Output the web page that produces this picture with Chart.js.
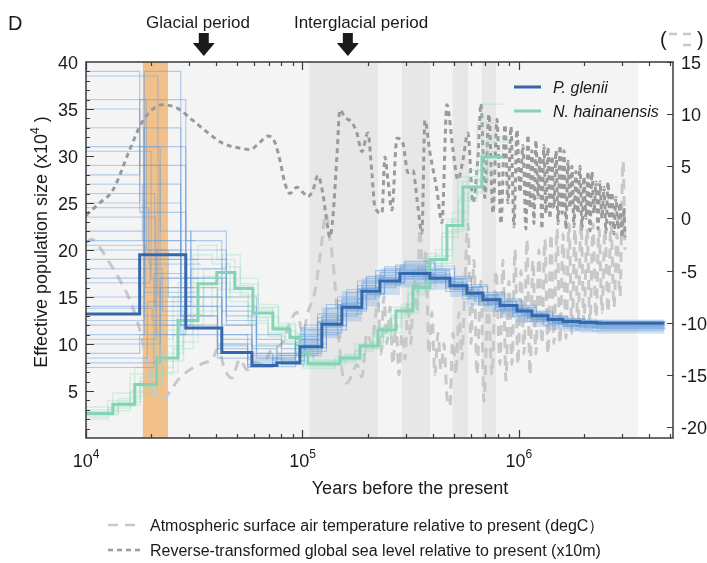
<!DOCTYPE html>
<html>
<head>
<meta charset="utf-8">
<script src="https://cdn.jsdelivr.net/npm/chart.js@4.4.1/dist/chart.umd.min.js"></script>
<style>
  html, body { margin: 0; padding: 0; background: #fff; }
  canvas { display: block; }
</style>
</head>
<body>
<canvas id="psmc" width="707" height="563"></canvas>
<script>
/* ---- data: time in kyr before present, Ne in x10^4 ---- */

// P. glenii median PSMC curve
const glenT  = [10, 17.7, 28.9, 42.4, 58.4, 76.2, 97.3, 122.9, 152.1, 188.1, 227.9, 282, 388, 480, 575, 682, 817, 979, 1148, 1362, 1598, 1914, 2293, 4700];
const glenNe = [13.2, 19.5, 11.7, 9.1, 7.7, 8.0, 9.7, 12.1, 13.9, 15.6, 16.7, 17.5, 17.0, 16.2, 15.4, 14.7, 14.1, 13.5, 13.0, 12.6, 12.4, 12.3, 12.2, 12.2];
// bootstrap rounds fall on slightly different time grids
const glenTa = [10, 18.6, 27.4, 40.5, 55.8, 72.8, 92.9, 117.4, 145.3, 179.6, 217.6, 269.3, 370.5, 458.4, 549.1, 651.3, 780.2, 935, 1096, 1301, 1526, 1828, 2190, 4650];
const glenTb = [10, 22.0, 30.5, 44.5, 61.3, 80.0, 102.2, 129.0, 159.7, 197.5, 239.3, 296.1, 407.4, 504, 603.8, 716.1, 857.9, 1028, 1205, 1430, 1678, 2010, 2408, 4750];
const glenBoot = [
  [22, 39, 16, 11, 9, 8.5, 10.5, 12.8, 14.6, 16.2, 17.3, 18.0, 17.6, 16.6, 15.8, 15.0, 14.3, 13.6, 13.1, 12.7, 12.4, 12.2, 12.1, 12.1],
  [10, 12, 18, 12, 8.5, 7.8, 9.2, 11.5, 13.5, 15.3, 16.5, 17.4, 17.0, 16.0, 15.1, 14.4, 13.8, 13.2, 12.7, 12.3, 12.0, 11.9, 11.8, 11.8],
  [35, 24, 14, 10, 8.2, 8.8, 11, 13, 14.8, 16.5, 17.6, 18.2, 17.8, 16.9, 16.0, 15.2, 14.5, 13.8, 13.2, 12.8, 12.5, 12.4, 12.3, 12.3],
  [15, 21, 13, 9.5, 7.6, 8.0, 9.8, 12.3, 14.2, 15.9, 17.0, 17.8, 17.3, 16.4, 15.6, 14.8, 14.2, 13.6, 13.1, 12.7, 12.5, 12.3, 12.2, 12.2],
  [8, 17, 20, 13, 10, 9.5, 11.5, 13.8, 15.5, 17.0, 18.0, 18.6, 18.0, 17.0, 16.1, 15.3, 14.6, 13.9, 13.3, 12.9, 12.6, 12.4, 12.3, 12.3],
  [28, 31, 15, 10.5, 8.8, 8.0, 9.0, 11.2, 13.2, 15.0, 16.2, 17.0, 16.6, 15.8, 15.0, 14.2, 13.6, 13.0, 12.6, 12.2, 11.9, 11.7, 11.6, 11.6],
  [19, 27, 12, 9, 7.5, 7.6, 8.8, 11.0, 13.0, 14.8, 16.0, 16.9, 16.5, 15.6, 14.8, 14.1, 13.5, 12.9, 12.4, 12.0, 11.7, 11.5, 11.4, 11.4],
  [12, 14, 22, 15, 11, 10, 12, 14.2, 15.8, 17.2, 18.2, 18.8, 18.3, 17.2, 16.3, 15.5, 14.8, 14.1, 13.5, 13.0, 12.7, 12.5, 12.4, 12.4],
  [25, 36, 17, 12, 9.5, 9.0, 10.5, 12.6, 14.4, 16.0, 17.1, 17.9, 17.4, 16.5, 15.6, 14.9, 14.2, 13.6, 13.0, 12.6, 12.3, 12.1, 12.0, 12.0],
  [17, 19, 11, 8.5, 7.8, 8.4, 10.2, 12.4, 14.0, 15.6, 16.7, 17.4, 16.9, 16.0, 15.2, 14.5, 13.9, 13.3, 12.8, 12.4, 12.1, 12.0, 11.9, 11.9],
  [31, 22, 19, 14, 10.5, 9.0, 10.0, 12.0, 13.8, 15.4, 16.6, 17.5, 17.1, 16.3, 15.5, 14.8, 14.1, 13.5, 13.0, 12.6, 12.3, 12.1, 12.0, 12.0],
  [9, 11, 15, 11, 8.0, 7.9, 9.4, 11.8, 13.6, 15.2, 16.4, 17.2, 16.8, 15.9, 15.1, 14.3, 13.7, 13.1, 12.6, 12.2, 11.9, 11.8, 11.7, 11.7],
  [21, 33, 13, 9.8, 8.4, 8.6, 10.8, 13.2, 15.0, 16.7, 17.8, 18.4, 17.9, 16.9, 16.0, 15.2, 14.5, 13.8, 13.3, 12.9, 12.6, 12.5, 12.4, 12.4],
  [14, 16, 17, 12.5, 9, 8.2, 9.6, 11.9, 13.7, 15.3, 16.4, 17.2, 16.7, 15.8, 15.0, 14.3, 13.7, 13.1, 12.6, 12.2, 11.9, 11.7, 11.6, 11.6],
  [39, 29, 21, 13.5, 9.8, 8.8, 10.4, 12.5, 14.3, 15.9, 17.0, 17.7, 17.2, 16.3, 15.4, 14.7, 14.0, 13.4, 12.9, 12.5, 12.2, 12.0, 11.9, 11.9],
  [11, 25, 14, 10, 8.6, 8.3, 9.9, 12.2, 14.1, 15.7, 16.8, 17.6, 17.1, 16.2, 15.3, 14.6, 14.0, 13.4, 12.8, 12.4, 12.1, 11.9, 11.8, 11.8],
];
// extra recent-end bootstrap rounds: [Ne at start, step time, Ne after step, end time]
const glenLeftExtra = [
  [38.5, 21.5, 15, 31], [36, 19, 20, 28], [33, 18.5, 13, 30], [30.5, 20, 17, 33],
  [29, 22, 12, 29], [27, 18.2, 21, 32], [26, 20.8, 14, 30.5], [24.5, 19.5, 18.5, 34],
  [23.5, 21, 11, 28.5], [20.5, 18.8, 16, 31.5], [18, 22.5, 13.5, 29.5], [16.5, 19.8, 19, 33],
  [13.8, 20.2, 12.5, 30], [12.5, 18.6, 15.5, 32], [10.5, 21.2, 20, 30.2], [8.5, 19.2, 14.5, 31],
  [7.5, 20.6, 17.5, 29], [20, 24, 15, 34],
];
// spread of the bootstrap rounds over the older part
const glenBandT  = [97.3, 122.9, 152.1, 188.1, 227.9, 282, 388, 480, 575, 682, 817, 979, 1148, 1362, 1598, 1914, 2293, 4700];
const glenBandHi = [11.8, 13.9, 15.6, 17.0, 18.0, 18.5, 18.1, 17.1, 16.2, 15.3, 14.7, 14.1, 13.5, 13.1, 12.8, 12.7, 12.6, 12.6];
const glenBandLo = [8.6, 10.6, 12.4, 14.0, 15.2, 16.0, 15.8, 15.0, 14.1, 13.4, 12.8, 12.3, 11.8, 11.5, 11.3, 11.2, 11.1, 11.1];

// N. hainanensis median PSMC curve
const hainT  = [10, 13.3, 16.8, 21.2, 26.6, 32.9, 40.2, 48.7, 59.0, 73.0, 87.5, 97.3, 105.9, 148.9, 184.2, 223.1, 270.2, 323.7, 388, 464.8, 551, 674.6, 843.5];
const hainNe = [2.6, 3.6, 5.7, 8.5, 12.5, 16.4, 17.6, 15.9, 13.3, 11.6, 10.7, 9.1, 7.9, 8.5, 9.8, 11.5, 13.5, 16.0, 19.0, 22.6, 26.7, 29.9, 29.9];
const hainTa = [10, 12.6, 16.0, 20.1, 25.3, 31.3, 38.2, 46.3, 56.1, 69.4, 83.1, 92.4, 100.6, 141.5, 175, 212, 256.7, 307.5, 368.6, 441.6, 523.5, 640.9, 801];
const hainTb = [10, 14.1, 17.8, 22.5, 28.2, 34.9, 42.6, 51.6, 62.5, 77.4, 92.8, 103.1, 112.3, 157.8, 195.3, 236.5, 286.4, 343.1, 411.3, 492.7, 584.1, 715.1, 894];
const hainBoot = [
  [2.2, 3.2, 5.0, 7.5, 11.0, 15.0, 16.5, 15.0, 12.5, 11.0, 10.2, 8.8, 7.6, 8.2, 9.4, 11.0, 13.0, 15.4, 18.2, 21.8, 25.5, 28.5, 28.5],
  [3.0, 4.2, 6.5, 9.8, 14.0, 18.0, 19.5, 17.0, 14.2, 12.2, 11.2, 9.5, 8.3, 8.9, 10.2, 12.0, 14.2, 16.8, 20.0, 24.0, 28.5, 32.0, 32.0],
  [2.4, 3.4, 4.8, 7.0, 10.2, 13.5, 15.8, 16.0, 13.8, 11.8, 10.6, 9.0, 7.8, 8.4, 9.6, 11.3, 13.2, 15.6, 18.5, 22.0, 26.0, 30.5, 30.5],
  [2.8, 4.0, 6.8, 10.5, 15.0, 19.5, 18.5, 15.5, 12.8, 11.2, 10.4, 9.2, 8.1, 8.7, 10.0, 11.8, 13.9, 16.5, 19.6, 23.3, 27.8, 33.5, 33.5],
  [2.5, 3.5, 5.5, 8.2, 12.0, 16.0, 17.0, 15.2, 12.9, 11.4, 10.5, 8.9, 7.7, 8.3, 9.5, 11.2, 13.3, 15.8, 18.6, 22.2, 26.2, 29.0, 29.0],
  [3.3, 4.8, 7.5, 11.5, 16.5, 20.5, 19.0, 16.2, 13.6, 11.8, 10.9, 9.3, 8.0, 8.6, 9.9, 11.6, 13.7, 16.2, 19.3, 23.0, 27.3, 35.5, 35.5],
  [2.0, 2.9, 4.5, 6.8, 9.5, 13.0, 15.0, 14.5, 12.2, 10.8, 10.0, 8.6, 7.4, 8.0, 9.2, 10.8, 12.8, 15.2, 18.0, 21.4, 25.2, 27.5, 27.5],
  [2.7, 3.8, 6.0, 9.0, 13.2, 17.2, 18.2, 16.4, 13.9, 12.0, 11.0, 9.4, 8.2, 8.8, 10.1, 11.8, 13.8, 16.4, 19.4, 23.2, 27.5, 31.5, 31.5],
];

// reverse-transformed global sea level (x10 m), right axis
const seaT = [10, 11.58, 13.3, 15.93, 18.11, 20.15, 22.41, 26.28, 31.16, 36.16, 42.87, 49.76, 57.14, 63.56, 69.2, 74.55, 78.63, 82.92, 87.46, 94.22,
  100.4, 105.9, 111.7, 117.8, 124.2, 129.7, 133.9, 138.2, 144.2, 148.9, 157, 169.2, 178.4, 188.1, 200.5, 209.2, 216, 232.8, 240.3, 248.1,
  258.9, 273.1, 291.1, 307, 323.7, 341.4, 356.2, 367.8, 388, 417.9, 440.7, 464.8, 495.4, 522.5, 551, 581.2, 613, 646.5,
  667.5, 696, 726.8, 758.4, 791.4, 825.8, 861.7, 889.6, 918.5, 948.2, 979, 1011, 1043, 1077, 1100, 1124, 1148, 1173, 1198, 1224,
  1250, 1277, 1304, 1333, 1362, 1391, 1421, 1451, 1483, 1515, 1548, 1581, 1615, 1649, 1684, 1721, 1758, 1795, 1834, 1873,
  1914, 1955, 1997, 2040, 2084, 2129, 2174, 2221, 2269, 2318, 2368, 2419, 2470, 2524, 2578, 2634, 2690, 2748, 2807, 2867,
  2929, 2992, 3056, 3089];
const seaV = [0.3, 1.5, 2.7, 6.6, 9.2, 10.4, 10.9, 10.6, 9.4, 8.3, 7.2, 6.8, 6.6, 7.3, 7.9, 7.3, 5.6, 3.4, 2.4, 3.0,
  2.5, 2.1, 2.7, 4.1, 2.4, -0.4, -1.8, 0.1, 5.9, 10.4, 9.7, 9.2, 8.2, 6.4, 8.2, 4.4, 1.1, 0.5, 5.9, 3.7,
  0.8, 7.7, 7.2, 4.4, 4.6, 1.1, -1.4, 9.4, 6.3, 2.7, -0.4, 10.9, 6.6, 3.7, 5.6, 8.2, 1.5, 5.9,
  11.0, 2.0, 10.0, 0.5, 9.5, -0.5, 9.0, 1.5, 8.8, -0.8, 8.5, 2.5, 7.0, -1.0, 8.0, 1.0, 6.5, -0.5, 7.5, 2.0,
  6.0, -1.0, 7.0, 0.5, 6.8, 0.0, 6.0, 1.0, 6.5, -0.5, 7.0, 0.5, 6.5, -1.0, 5.5, 1.0, 5.0, -0.8, 4.5, 0.5,
  5.0, -1.0, 4.0, 0.0, 4.5, -1.2, 4.5, 0.5, 3.5, -1.0, 3.5, 0.0, 3.0, -1.3, 3.5, -0.5, 2.5, -1.5, 2.0, -1.0,
  1.5, -1.8, 1.0, -1.8];

// surface air temperature relative to present (degC), right axis
const tempT = [10, 10.64, 11.58, 12.89, 14.33, 15.93, 17.73, 19.1, 20.36, 22.41, 24.4, 26.56, 30.18, 34.66, 38.55, 40.65, 43.79, 47.18, 51.37, 55.35,
  60.26, 65.62, 72.2, 80.32, 87.46, 94.22, 100.4, 105.9, 114.1, 121.6, 128.3, 133.9, 139.7, 145.8, 152.1, 160.4, 169.2, 178.4, 188.1, 198.4,
  209.2, 223.1, 230.3, 237.8, 245.5, 253.5, 261.7, 270.2, 279.0, 288.0, 297.4, 307.0, 316.9, 327.2, 337.8, 348.7, 360.0, 371.8, 383.8, 396.3,
  409.2, 422.4, 436.1, 450.2, 464.8, 479.9, 495.4, 511.5, 528.1, 545.2, 562.9, 581.2, 600.1, 619.5,
  639.7, 667.5, 689.1, 719.1, 750.4, 783, 817.1, 843.5, 870.9, 899.1, 928.3, 958.4, 989.4, 1022, 1055,
  1089, 1124, 1160, 1198, 1237, 1277, 1318, 1362, 1406, 1451, 1499, 1548, 1598, 1649, 1702, 1758, 1815, 1873, 1934, 1997,
  2062, 2129, 2198, 2269, 2343, 2419, 2497, 2578, 2662, 2748, 2837, 2929, 3024, 3089];
const tempV = [-2.3, -2.0, -2.8, -4.3, -5.9, -7.8, -10.7, -13.6, -16.2, -17.4, -16.6, -15.5, -14.5, -13.9, -13.4, -12.5, -14.5, -15.3, -13.5, -14.5,
  -13.8, -14.0, -12.5, -12.0, -10.0, -9.0, -11.0, -9.0, -7.0, -3.0, 0.5, -2.0, -5.0, -10.5, -14.5, -15.8, -15.0, -14.0, -15.2, -11.0,
  -12.0, -8.0, -13.0, -7.5, -12.0, -8.5, -14.0, -10.0, -15.0, -11.0, -13.5, -8.0, -12.0, -5.0, -9.0, -1.0, -6.0, -3.0, -13.0, -9.0,
  -15.0, -11.0, -14.5, -12.0, -17.0, -18.0, -11.0, -15.0, -9.0, -13.5, -6.0, -0.5, -12.0, -4.0,
  -15.0, -6.0, -17.5, -8.0, -15.0, -5.0, -14.0, -4.0, -15.5, -6.0, -14.0, -3.0, -14.0, -5.0, -13.0,
  -2.0, -15.0, -4.0, -13.0, -3.0, -12.0, -2.0, -13.0, -1.5, -12.0, -1.0, -12.0, -1.5, -11.5, -0.5, -11.0, -1.0, -10.5, -0.5, -10.0,
  -1.0, -10.0, -0.5, -9.5, -1.0, -9.0, -1.0, -9.0, -0.5, -8.5, -1.5, -7.5, 5.5, -3.0];

// shaded periods (kyr)
const bgSpan = [10, 3550];
const lgmBand = [18.3, 23.9];
const interglacials = [[108, 223], [288, 388], [495, 581], [675, 783]];
const arrowT = [35.0, 162];
const arrowText = ['Glacial period', 'Interglacial period'];

// axis ticks
const xMajor = [10, 100, 1000];
const xMajorExp = ['4', '5', '6'];
const xMinor = [20, 30, 40, 50, 60, 70, 80, 90, 200, 300, 400, 500, 600, 700, 800, 900, 2000, 3000, 4000, 5000];
const rightTicks = [15, 10, 5, 0, -5, -10, -15, -20];

/* ---- colours ---- */
const GLEN = '#3467ac', GLEN_BOOT = 'rgba(108,160,218,0.5)', GLEN_BAND = 'rgba(120,170,224,0.32)';
const HAIN = '#84d3b4', HAIN_BOOT = 'rgba(150,222,192,0.35)';
const TEMP = '#c8c8c8', SEA = '#9a9a9a';
const FONT = '"Liberation Sans", Arial, sans-serif';

Chart.defaults.font.family = FONT;

const pts = (ts, vs) => ts.map((x, i) => ({ x, y: vs[i] }));
const stepLine = (data, color, width, order) => ({
  data, borderColor: color, borderWidth: width, stepped: 'before', order,
  pointRadius: 0, pointHoverRadius: 0, fill: false, yAxisID: 'y',
});

const datasets = [
  stepLine(pts(glenT, glenNe), GLEN, 3, 0),
  stepLine(pts(hainT, hainNe), HAIN, 3, 1),
];
const glenGrids = [glenTa, glenTb, glenT];
glenBoot.forEach((ne, i) => datasets.push(stepLine(pts(glenGrids[i % 3], ne), GLEN_BOOT, 1.2, 2)));
glenLeftExtra.forEach(([n0, ts, n1, te]) =>
  datasets.push(stepLine([{ x: 10, y: n0 }, { x: ts, y: n1 }, { x: te, y: n1 }], GLEN_BOOT, 1, 2)));
datasets.push({ ...stepLine(pts(glenBandT, glenBandHi), 'rgba(0,0,0,0)', 0, 3), fill: '+1', backgroundColor: GLEN_BAND });
datasets.push(stepLine(pts(glenBandT, glenBandLo), 'rgba(0,0,0,0)', 0, 3));
const hainGrids = [hainTa, hainTb, hainT];
hainBoot.forEach((ne, i) => datasets.push(stepLine(pts(hainGrids[i % 3], ne), HAIN_BOOT, 1.5, 4)));
datasets.push({
  data: pts(seaT, seaV), yAxisID: 'y2', order: 5, borderColor: SEA, borderWidth: 3,
  borderDash: [5, 4], cubicInterpolationMode: 'monotone', pointRadius: 0, fill: false,
});
datasets.push({
  data: pts(tempT, tempV), yAxisID: 'y2', order: 6, borderColor: TEMP, borderWidth: 3,
  borderDash: [10, 7], cubicInterpolationMode: 'monotone', pointRadius: 0, fill: false,
});

/* ---- shaded periods behind the curves ---- */
const backdrop = {
  id: 'backdrop',
  beforeDatasetsDraw(chart) {
    const { ctx, chartArea: a, scales: { x } } = chart;
    const band = (t0, t1, color) => {
      const x0 = Math.max(a.left, x.getPixelForValue(t0));
      const x1 = Math.min(a.right, x.getPixelForValue(t1));
      ctx.fillStyle = color;
      ctx.fillRect(x0, a.top, x1 - x0, a.bottom - a.top);
    };
    ctx.save();
    band(bgSpan[0], bgSpan[1], '#f5f4f5');
    interglacials.forEach(([t0, t1]) => band(t0, t1, '#e7e7e7'));
    band(lgmBand[0], lgmBand[1], '#f2c08a');
    ctx.restore();
  }
};

/* ---- frame, ticks, titles and legends ---- */
const decor = {
  id: 'decor',
  afterDraw(chart) {
    const { ctx, chartArea: a, scales: { x, y, y2 } } = chart;
    ctx.save();

    // inward ticks
    ctx.strokeStyle = '#3a3a3a';
    ctx.lineWidth = 1.2;
    ctx.beginPath();
    xMinor.forEach(t => {
      const px = Math.round(x.getPixelForValue(t)) + 0.5;
      ctx.moveTo(px, a.bottom); ctx.lineTo(px, a.bottom - 4);
      ctx.moveTo(px, a.top); ctx.lineTo(px, a.top + 4);
    });
    xMajor.forEach(t => {
      const px = Math.round(x.getPixelForValue(t)) + 0.5;
      ctx.moveTo(px, a.bottom); ctx.lineTo(px, a.bottom - 8);
      ctx.moveTo(px, a.top); ctx.lineTo(px, a.top + 8);
    });
    for (let v = 1; v < 40; v++) {
      const py = Math.round(y.getPixelForValue(v)) + 0.5;
      ctx.moveTo(a.left, py); ctx.lineTo(a.left + (v % 5 ? 4 : 8), py);
    }
    rightTicks.forEach(v => {
      const py = Math.round(y2.getPixelForValue(v)) + 0.5;
      ctx.moveTo(a.right, py); ctx.lineTo(a.right - 6, py);
    });
    ctx.stroke();
    ctx.lineWidth = 1.5;
    ctx.strokeRect(a.left, a.top, a.right - a.left, a.bottom - a.top);

    ctx.fillStyle = '#1a1a1a';
    ctx.textBaseline = 'alphabetic';

    // x tick labels 10^n
    xMajor.forEach((t, i) => {
      const px = x.getPixelForValue(t);
      ctx.font = '18px ' + FONT;
      const w1 = ctx.measureText('10').width;
      ctx.font = '12px ' + FONT;
      const w2 = ctx.measureText(xMajorExp[i]).width;
      const left = px - (w1 + w2) / 2;
      ctx.textAlign = 'left';
      ctx.font = '18px ' + FONT;
      ctx.fillText('10', left, 467);
      ctx.font = '12px ' + FONT;
      ctx.fillText(xMajorExp[i], left + w1, 458);
    });

    // axis titles
    ctx.font = '18px ' + FONT;
    ctx.textAlign = 'center';
    ctx.fillText('Years before the present', 410, 494);

    ctx.save();
    ctx.translate(47, 242);
    ctx.rotate(-Math.PI / 2);
    const part1 = 'Effective population size (x10', part2 = ' )';
    ctx.font = '18px ' + FONT;
    const w1 = ctx.measureText(part1).width, w3 = ctx.measureText(part2).width;
    ctx.font = '12px ' + FONT;
    const w2 = ctx.measureText('4').width;
    const sx = -(w1 + w2 + w3) / 2;
    ctx.textAlign = 'left';
    ctx.font = '18px ' + FONT;
    ctx.fillText(part1, sx, 0);
    ctx.font = '12px ' + FONT;
    ctx.fillText('4', sx + w1, -8);
    ctx.font = '18px ' + FONT;
    ctx.fillText(part2, sx + w1 + w2, 0);
    ctx.restore();

    // panel letter and period markers
    ctx.textAlign = 'left';
    ctx.font = '20px ' + FONT;
    ctx.fillText('D', 8, 30);
    ctx.textAlign = 'center';
    ctx.font = '17px ' + FONT;
    const labelX = [198, 361];
    arrowT.forEach((t, i) => {
      ctx.fillText(arrowText[i], labelX[i], 28);
      const px = x.getPixelForValue(t);
      ctx.beginPath();
      ctx.moveTo(px - 5, 33); ctx.lineTo(px + 5, 33); ctx.lineTo(px + 5, 43);
      ctx.lineTo(px + 11, 43); ctx.lineTo(px, 56); ctx.lineTo(px - 11, 43);
      ctx.lineTo(px - 5, 43); ctx.closePath();
      ctx.fill();
    });

    // right axis unit mark
    ctx.font = '20px ' + FONT;
    ctx.textAlign = 'left';
    ctx.fillText('(', 660, 46);
    ctx.fillText(')', 697, 46);
    ctx.strokeStyle = TEMP;
    ctx.lineWidth = 2.5;
    ctx.beginPath();
    ctx.moveTo(669, 34); ctx.lineTo(677, 34);
    ctx.moveTo(683, 34); ctx.lineTo(691, 34);
    ctx.moveTo(683, 45); ctx.lineTo(691, 45);
    ctx.stroke();

    // species legend
    ctx.lineWidth = 3;
    ctx.font = 'italic 16px ' + FONT;
    [[GLEN, 'P. glenii', 87], [HAIN, 'N. hainanensis', 111]].forEach(([c, txt, ly]) => {
      ctx.strokeStyle = c;
      ctx.beginPath(); ctx.moveTo(514, ly); ctx.lineTo(541, ly); ctx.stroke();
      ctx.fillText(txt, 553, ly + 6);
    });

    // climate legend
    ctx.font = '16px ' + FONT;
    ctx.lineWidth = 2.5;
    [[TEMP, [10, 7], 'Atmospheric surface air temperature relative to present (degC）', 525],
     [SEA, [5, 4], 'Reverse-transformed global sea level relative to present (x10m)', 550]].forEach(([c, dash, txt, ly]) => {
      ctx.strokeStyle = c;
      ctx.setLineDash(dash);
      ctx.beginPath(); ctx.moveTo(108, ly); ctx.lineTo(140, ly); ctx.stroke();
      ctx.setLineDash([]);
      ctx.fillStyle = '#1a1a1a';
      ctx.fillText(txt, 150, ly + 6);
    });

    ctx.restore();
  }
};

new Chart(document.getElementById('psmc'), {
  type: 'line',
  data: { datasets },
  options: {
    responsive: false,
    animation: false,
    layout: { padding: { top: 62, left: 0, right: 0, bottom: 0 } },
    plugins: { legend: { display: false }, tooltip: { enabled: false } },
    scales: {
      x: {
        type: 'logarithmic', min: 10, max: 5148,
        ticks: { display: false }, grid: { display: false, drawTicks: false }, border: { display: false },
        afterFit: s => { s.height = 125; }
      },
      y: {
        position: 'left', min: 0, max: 40,
        ticks: { stepSize: 5, padding: 8, labelOffset: 2, color: '#1a1a1a', font: { size: 18 }, callback: v => (v === 0 ? '' : v) },
        grid: { display: false, drawTicks: false }, border: { display: false },
        afterFit: s => { s.width = 86; }
      },
      y2: {
        position: 'right', min: -21.05, max: 15,
        ticks: { stepSize: 5, padding: 8, labelOffset: 2, includeBounds: false, color: '#1a1a1a', font: { size: 18 } },
        grid: { display: false, drawTicks: false }, border: { display: false },
        afterFit: s => { s.width = 34; }
      }
    }
  },
  plugins: [backdrop, decor]
});
</script>
</body>
</html>
